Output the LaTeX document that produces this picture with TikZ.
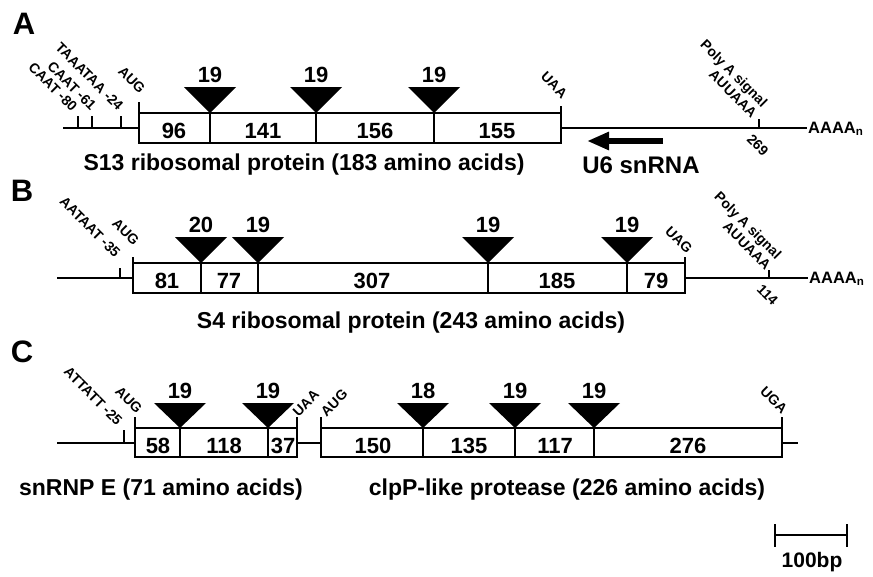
\documentclass[tikz,border=0pt]{standalone}
\usepackage{fontspec}
\setmainfont{Liberation Sans}
\usetikzlibrary{arrows.meta,positioning}

\newcommand\panelfont{\fontsize{31}{34}\selectfont\bfseries}
\newcommand\segfont{\fontsize{22}{24}\selectfont\bfseries}
\newcommand\intfont{\fontsize{22}{24}\selectfont\bfseries}
\newcommand\namefont{\fontsize{23}{26}\selectfont\bfseries}
\newcommand\sitefont{\fontsize{14}{15}\selectfont\bfseries}

\tikzset{
  dna/.style={line width=2.1pt},
  exonbox/.style={draw, line width=2.1pt},
  intron/.style={fill=black},
  seg/.style={font=\segfont, inner sep=0pt},
  intlen/.style={font=\intfont, inner sep=0pt},
  genename/.style={font=\namefont, inner sep=0pt, anchor=base},
  site/.style={font=\sitefont, rotate=-45, anchor=east, inner sep=0pt},
  siteup/.style={font=\sitefont, rotate=45, anchor=west, inner sep=0pt},
  panel/.style={font=\panelfont, inner sep=0pt},
  polytail/.style={font=\fontsize{16.5}{18}\selectfont\bfseries, anchor=west, inner sep=0pt},
}

\begin{document}
\begin{tikzpicture}[x=1pt, y=-1pt, >=Stealth]
  \useasboundingbox (0,0) rectangle (873,576);
  % panel A
  \node[panel] (pA) at (24,24) {A};
  \draw[dna] (63,128) -- (139,128);
  \draw[dna] (78,128) -- (78,116) (92,128) -- (92,116) (121,128) -- (121,116);
  \draw[dna] (139,113) -- (139,102) (561,113) -- (561,106);
  \draw[exonbox] (139,113) rectangle (561,143);
  \draw[dna] (210,113) -- (210,143) (316,113) -- (316,143) (434,113) -- (434,143);
  \draw[dna] (561,128) -- (807,128) (759,128) -- (759,119);
  \fill[intron] (184,87) -- (236,87) -- (210,113) -- cycle;
  \fill[intron] (290,87) -- (342,87) -- (316,113) -- cycle;
  \fill[intron] (408,87) -- (460,87) -- (434,113) -- cycle;
  \node[intlen] (iA1) at (210,75) {19};
  \node[intlen] (iA2) at (316,75) {19};
  \node[intlen] (iA3) at (434,75) {19};
  \node[seg] (eA1) at (174,131) {96};
  \node[seg] (eA2) at (263,131) {141};
  \node[seg] (eA3) at (375,131) {156};
  \node[seg] (eA4) at (497,131) {155};
  \node[site] (caat1) at (75,109) {CAAT -80};
  \node[site] (caat2) at (94,108) {CAAT -61};
  \node[site] (tata) at (121,108) {TAAATAA -24};
  \node[site] (augA) at (143,91) {AUG};
  \node[site] (uaa) at (565,96) {UAA};
  \node[site, align=right, anchor=south east] (polyA) at (751,119) {Poly A signal\\AUUAAA};
  \node[site, anchor=north west] (endA) at (753,133) {269};
  \node[polytail] (tailA) at (808,129) {AAAA\textsubscript{n}};
  \node[genename] (nameA) at (304,170) {S13 ribosomal protein (183 amino acids)};
  % antisense U6 snRNA
  \coordinate (u6tail) at (663,141);
  \coordinate (u6head) at (587,141);
  \draw[line width=5.5pt, -{Triangle[length=22pt,width=17pt]}] (u6tail) -- (u6head);
  \node[font=\fontsize{24}{27}\selectfont\bfseries, inner sep=0pt, anchor=base] (u6) at (641,173) {U6 snRNA};

  % panel B
  \node[panel] (pB) at (22,191) {B};
  \draw[dna] (57,278) -- (133,278) (120,278) -- (120,268);
  \draw[dna] (133,263) -- (133,257) (685,263) -- (685,257);
  \draw[exonbox] (133,263) rectangle (685,293);
  \draw[dna] (201,263) -- (201,293) (258,263) -- (258,293) (488,263) -- (488,293) (627,263) -- (627,293);
  \draw[dna] (685,278) -- (808,278) (769,278) -- (769,270);
  \fill[intron] (175,237) -- (227,237) -- (201,263) -- cycle;
  \fill[intron] (232,237) -- (284,237) -- (258,263) -- cycle;
  \fill[intron] (462,237) -- (514,237) -- (488,263) -- cycle;
  \fill[intron] (601,237) -- (653,237) -- (627,263) -- cycle;
  \node[intlen] (iB1) at (201,225) {20};
  \node[intlen] (iB2) at (258,225) {19};
  \node[intlen] (iB3) at (488,225) {19};
  \node[intlen] (iB4) at (627,225) {19};
  \node[seg] (eB1) at (167,281) {81};
  \node[seg] (eB2) at (229,281) {77};
  \node[seg] (eB3) at (372,281) {307};
  \node[seg] (eB4) at (557,281) {185};
  \node[seg] (eB5) at (656,281) {79};
  \node[site] (aataat) at (118,255) {AATAAT -35};
  \node[site] (augB) at (137,243) {AUG};
  \node[site] (uag) at (690,251) {UAG};
  \node[site, align=right, anchor=south east] (polyB) at (765,271) {Poly A signal\\AUUAAA};
  \node[site, anchor=north west] (endB) at (763,283) {114};
  \node[polytail] (tailB) at (809,279) {AAAA\textsubscript{n}};
  \node[genename] (nameB) at (411,328) {S4 ribosomal protein (243 amino acids)};

  % panel C
  \node[panel] (pC) at (22,352) {C};
  \draw[dna] (57,443) -- (135,443) (124,443) -- (124,430);
  \draw[dna] (135,428) -- (135,417) (297,428) -- (297,417);
  \draw[exonbox] (135,428) rectangle (297,457);
  \draw[dna] (180,428) -- (180,457) (268,428) -- (268,457);
  \draw[dna] (297,443) -- (321,443);
  \draw[dna] (321,428) -- (321,417) (782,428) -- (782,417);
  \draw[exonbox] (321,428) rectangle (782,457);
  \draw[dna] (423,428) -- (423,457) (515,428) -- (515,457) (594,428) -- (594,457);
  \draw[dna] (782,443) -- (798,443);
  \fill[intron] (154,403) -- (206,403) -- (180,428) -- cycle;
  \fill[intron] (242,403) -- (294,403) -- (268,428) -- cycle;
  \fill[intron] (397,403) -- (449,403) -- (423,428) -- cycle;
  \fill[intron] (489,403) -- (541,403) -- (515,428) -- cycle;
  \fill[intron] (568,403) -- (620,403) -- (594,428) -- cycle;
  \node[intlen] (iC1) at (180,391) {19};
  \node[intlen] (iC2) at (268,391) {19};
  \node[intlen] (iC3) at (423,391) {18};
  \node[intlen] (iC4) at (515,391) {19};
  \node[intlen] (iC5) at (594,391) {19};
  \node[seg] (eC1) at (158,446) {58};
  \node[seg] (eC2) at (224,446) {118};
  \node[seg] (eC3) at (283,446) {37};
  \node[seg] (eC4) at (373,446) {150};
  \node[seg] (eC5) at (469,446) {135};
  \node[seg] (eC6) at (555,446) {117};
  \node[seg] (eC7) at (688,446) {276};
  \node[site] (attatt) at (120,423) {ATTATT -25};
  \node[site] (augC1) at (140,411) {AUG};
  \node[siteup] (uaaC) at (295,414) {UAA};
  \node[siteup] (augC2) at (323,414) {AUG};
  \node[site] (uga) at (785,411) {UGA};
  \node[genename] (nameC1) at (161,495) {snRNP E (71 amino acids)};
  \node[genename] (nameC2) at (567,495) {clpP-like protease (226 amino acids)};

  % scale bar
  \draw[dna] (775,535) -- (847,535);
  \draw[line width=2.6pt] (775,524) -- (775,547) (847,524) -- (847,547);
  \node[font=\fontsize{21}{23}\selectfont\bfseries, inner sep=0pt] (scale) at (812,562) {100bp};
\end{tikzpicture}
\end{document}
